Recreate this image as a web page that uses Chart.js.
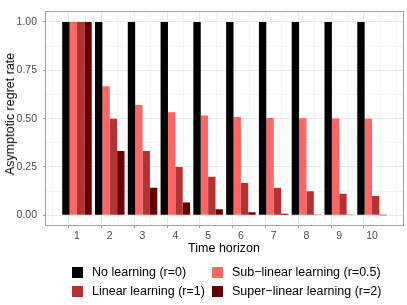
<!DOCTYPE html>
<html>
<head>
<meta charset="utf-8">
<script src="https://cdn.jsdelivr.net/npm/chart.js@4/dist/chart.umd.min.js"></script>
<style>
  html, body { margin: 0; padding: 0; background: #ffffff; }
  #wrap { position: relative; width: 407px; height: 305px; font-family: "Liberation Sans", Arial, sans-serif; }
  canvas { position: absolute; left: 0; top: 0; }
  .lbl { position: absolute; white-space: nowrap; color: #000; font-size: 12.5px; line-height: 14px; }
  .key { position: absolute; width: 11px; height: 11px; }
</style>
</head>
<body>
<div id="wrap">
  <canvas id="c" width="407" height="305"></canvas>
  <div class="lbl" id="ytitle" style="left:10px; top:114px; transform: translate(-50%,-50%) rotate(-90deg);">Asymptotic regret rate</div>
  <div class="lbl" id="xtitle" style="left:224px; top:248px; transform: translate(-50%,-50%);">Time horizon</div>
  <div id="legend"></div>
</div>
<script>
const timeHorizon = [1, 2, 3, 4, 5, 6, 7, 8, 9, 10];
const seriesNames = ["No learning (r=0)", "Sub\u2212linear learning (r=0.5)", "Linear learning (r=1)", "Super\u2212linear learning (r=2)"];
const noLearning  = [1, 1, 1, 1, 1, 1, 1, 1, 1, 1];
const subLinear   = [1, 0.667, 0.571, 0.533, 0.516, 0.508, 0.504, 0.502, 0.501, 0.500];
const linearL     = [1, 0.5, 0.333, 0.25, 0.2, 0.167, 0.143, 0.125, 0.111, 0.1];
const superLinear = [1, 0.333, 0.143, 0.067, 0.032, 0.016, 0.008, 0.004, 0.002, 0.001];
const xGridTicks = [0.5, 1, 1.5, 2, 2.5, 3, 3.5, 4, 4.5, 5, 5.5, 6, 6.5, 7, 7.5, 8, 8.5, 9, 9.5, 10, 10.5];
const yGridTicks = [0, 0.125, 0.25, 0.375, 0.5, 0.625, 0.75, 0.875, 1];

const colors = ["#000000", "#FF6666", "#B33333", "#660000"];
const values = [noLearning, subLinear, linearL, superLinear];

// legend (ggplot-style, 2 columns filled by row)
const legendPos = [
  { kx: 72, tx: 92, y: 272 },
  { kx: 212, tx: 232, y: 272 },
  { kx: 72, tx: 92, y: 291 },
  { kx: 212, tx: 232, y: 291 }
];
const lg = document.getElementById('legend');
[0, 1, 2, 3].forEach((si, i) => {
  const p = legendPos[i];
  const k = document.createElement('div');
  k.className = 'key';
  k.style.left = p.kx + 'px';
  k.style.top = (p.y - 5.5) + 'px';
  k.style.background = colors[si];
  lg.appendChild(k);
  const t = document.createElement('div');
  t.className = 'lbl';
  t.style.left = p.tx + 'px';
  t.style.top = (p.y - 7) + 'px';
  t.textContent = seriesNames[si];
  lg.appendChild(t);
});

// Chart.js measures the bar "ruler" from the smallest tick spacing (0.5 units here,
// because of the minor grid ticks), so the group fraction is doubled: 1.8 * 0.5 = 0.9 units.
const datasets = values.map((arr, i) => ({
  label: seriesNames[i],
  data: arr.map((v, k) => ({ x: timeHorizon[k], y: v })),
  backgroundColor: colors[i],
  borderWidth: 0,
  categoryPercentage: 1.8,
  barPercentage: 1.0
}));

const tv = ctx => (ctx && ctx.tick && typeof ctx.tick.value === 'number') ? ctx.tick.value : null;
const isMajorX = v => v !== null && Math.abs(v - Math.round(v)) < 1e-9;
const isMajorY = v => v !== null && Math.abs(v * 4 - Math.round(v * 4)) < 1e-9;

const borderPlugin = {
  id: 'panelBorder',
  afterDraw(chart) {
    const ca = chart.chartArea, ctx = chart.ctx;
    ctx.save();
    ctx.strokeStyle = '#a0a0a0';
    ctx.lineWidth = 1;
    ctx.strokeRect(Math.round(ca.left) - 0.5, Math.round(ca.top) - 0.5, Math.round(ca.right) - Math.round(ca.left) + 1, Math.round(ca.bottom) - Math.round(ca.top) + 1);
    ctx.restore();
  }
};

new Chart(document.getElementById('c'), {
  type: 'bar',
  data: { datasets },
  options: {
    responsive: false,
    animation: false,
    layout: { padding: { top: 3.5, right: 4, left: 0, bottom: 0 } },
    plugins: { legend: { display: false }, tooltip: { enabled: false } },
    scales: {
      x: {
        type: 'linear',
        min: 0.055,
        max: 10.945,
        offset: false,
        afterBuildTicks: s => { s.ticks = xGridTicks.map(v => ({ value: v })); },
        afterFit: s => { s.height = 80; },
        grid: {
          color: ctx => isMajorX(tv(ctx)) ? '#e8e8e8' : '#f3f3f3',
          lineWidth: 1,
          drawTicks: true,
          tickLength: 3,
          tickColor: ctx => isMajorX(tv(ctx)) ? '#a0a0a0' : 'rgba(0,0,0,0)'
        },
        border: { display: false },
        ticks: {
          autoSkip: false,
          maxRotation: 0,
          padding: 2,
          color: '#4d4d4d',
          font: { family: "Liberation Sans", size: 10.5 },
          callback: v => isMajorX(v) ? String(v) : ''
        }
      },
      y: {
        min: -0.05,
        max: 1.05,
        afterBuildTicks: s => { s.ticks = yGridTicks.map(v => ({ value: v })); },
        afterFit: s => { s.width = 46; },
        grid: {
          color: ctx => isMajorY(tv(ctx)) ? '#e8e8e8' : '#f3f3f3',
          lineWidth: 1,
          drawTicks: true,
          tickLength: 3,
          tickColor: ctx => isMajorY(tv(ctx)) ? '#a0a0a0' : 'rgba(0,0,0,0)'
        },
        border: { display: false },
        ticks: {
          autoSkip: false,
          padding: 6,
          color: '#4d4d4d',
          font: { family: "Liberation Sans", size: 10.5 },
          callback: v => isMajorY(v) ? v.toFixed(2) : ''
        }
      }
    }
  },
  plugins: [borderPlugin]
});
</script>
</body>
</html>
